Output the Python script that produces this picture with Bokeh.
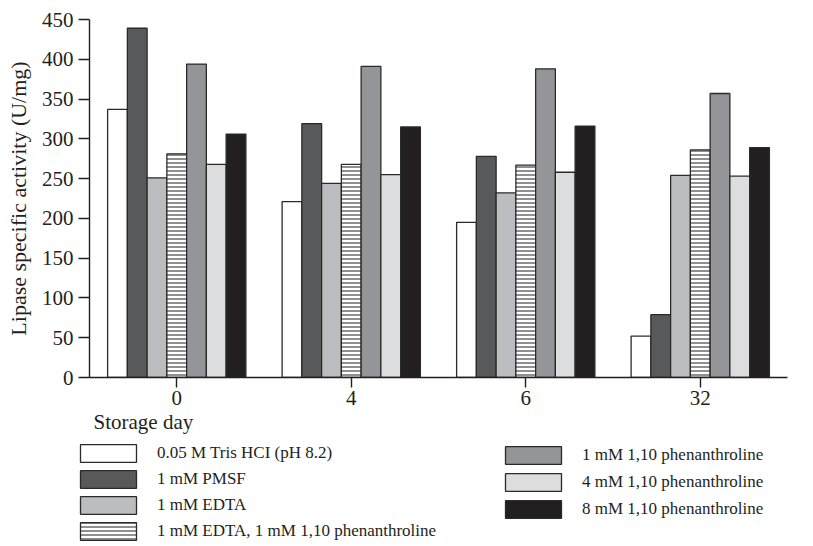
from bokeh.plotting import figure
from bokeh.layouts import column
from bokeh.models import (ColumnDataSource, FactorRange, FixedTicker, Legend, LegendItem,
                          Title, Range1d)
from bokeh.transform import dodge
from bokeh.embed import file_html
from bokeh.resources import INLINE

# ---- data ----
days = ["0", "4", "6", "32"]
tris = [337, 221, 195, 52]
pmsf = [439, 319, 278, 79]
edta = [251, 244, 232, 254]
edta_phen = [281, 268, 267, 286]
phen1 = [394, 391, 388, 357]
phen4 = [268, 255, 258, 253]
phen8 = [306, 315, 316, 289]
series_labels = [
    "0.05 M Tris HCI (pH 8.2)",
    "1 mM PMSF",
    "1 mM EDTA",
    "1 mM EDTA, 1 mM 1,10 phenanthroline",
    "1 mM 1,10 phenanthroline",
    "4 mM 1,10 phenanthroline",
    "8 mM 1,10 phenanthroline",
]
y_ticks = [0, 50, 100, 150, 200, 250, 300, 350, 400, 450]
y_label = "Lipase specific activity (U/mg)"
x_label = "Storage day"

series_values = [tris, pmsf, edta, edta_phen, phen1, phen4, phen8]
fills = ["#ffffff", "#58595b", "#bcbdc0", "#ffffff", "#939598", "#dcdddf", "#231f20"]
hatches = [None, None, None, "horizontal_line", None, None, None]

FONT = "Liberation Serif"
INK = "#231f20"
W = 813
H = 546
BOTTOM = 64

p = figure(
    x_range=FactorRange(factors=days, range_padding=0),
    y_range=(0, 450),
    frame_width=698, frame_height=358,
    min_border_left=89, min_border_right=W - 89 - 698, min_border_top=19, min_border_bottom=BOTTOM,
    output_backend="svg", toolbar_location=None,
)
p.outline_line_color = None
p.xgrid.visible = False
p.ygrid.visible = False
p.background_fill_color = "white"
p.border_fill_color = "white"
if "frame_align" in p.properties():
    p.frame_align = False

bar_w = 0.1132


def style(fc, hp):
    kw = dict(fill_color=fc, line_color="#2a2a2a", line_width=1.3)
    if hp:
        kw.update(hatch_pattern=hp, hatch_scale=4, hatch_weight=1.1, hatch_color="#333333")
    return kw


for k, (vals, fc, hp) in enumerate(zip(series_values, fills, hatches)):
    src = ColumnDataSource(dict(day=days, top=vals))
    p.vbar(x=dodge("day", (k - 3) * bar_w, range=p.x_range), top="top", width=bar_w,
           source=src, **style(fc, hp))

# axes
for ax in (p.xaxis[0], p.yaxis[0]):
    ax.axis_line_color = INK
    ax.axis_line_width = 1.4
    ax.major_tick_line_color = INK
    ax.major_tick_line_width = 1.4
    ax.major_tick_in = 0
    ax.minor_tick_line_color = None
    ax.major_label_text_font = FONT
    ax.major_label_text_font_size = "21px"
    ax.major_label_text_color = INK
    ax.axis_label_text_font = FONT
    ax.axis_label_text_font_style = "normal"
    ax.axis_label_text_color = INK

p.yaxis[0].ticker = FixedTicker(ticks=y_ticks)
p.yaxis[0].major_tick_out = 11
p.yaxis[0].major_label_standoff = 5
p.yaxis[0].axis_label = y_label
p.yaxis[0].axis_label_standoff = 8
p.yaxis[0].axis_label_text_font_size = "22px"
p.xaxis[0].major_tick_out = 10
p.xaxis[0].major_label_standoff = 3

p.add_layout(Title(text=x_label, align="left", offset=4, standoff=0,
                   text_font=FONT, text_font_size="21px", text_font_style="normal",
                   text_color=INK), "below")

# ---- lower panel: legends ----
top2 = 19 + 358 + BOTTOM
q = figure(width=W, height=H - top2, x_range=Range1d(0, W), y_range=Range1d(H, top2),
           x_axis_location=None, y_axis_location=None,
           min_border=0, min_border_left=0, min_border_right=0, min_border_top=0, min_border_bottom=0,
           output_backend="svg", toolbar_location=None)
q.grid.visible = False
q.outline_line_color = None
q.background_fill_color = "white"
q.border_fill_color = "white"
if "frame_align" in q.properties():
    q.frame_align = False

# legend proxies (not drawn in the panel itself, only as legend swatches)
proxies = []
for fc, hp in zip(fills, hatches):
    r = q.vbar(x=[-1000], top=[0], width=1, **style(fc, hp))
    r.visible = False
    proxies.append(r)


def make_legend(idx, loc, spacing):
    items = [LegendItem(label=series_labels[i], renderers=[proxies[i]]) for i in idx]
    return Legend(items=items, location=loc, orientation="vertical",
                  glyph_width=70, glyph_height=22, label_height=20, label_standoff=14,
                  spacing=spacing, padding=0, margin=0, click_policy="none",
                  inactive_fill_alpha=0,
                  border_line_color=None, background_fill_alpha=0,
                  label_text_font=FONT, label_text_font_size="17px", label_text_color=INK)


q.add_layout(make_legend([0, 1, 2, 3], (73, 4), 4))
q.add_layout(make_legend([4, 5, 6], (498, 26), 5))

layout = column(p, q, spacing=0)
open("out.html", "w").write(file_html(layout, INLINE))
